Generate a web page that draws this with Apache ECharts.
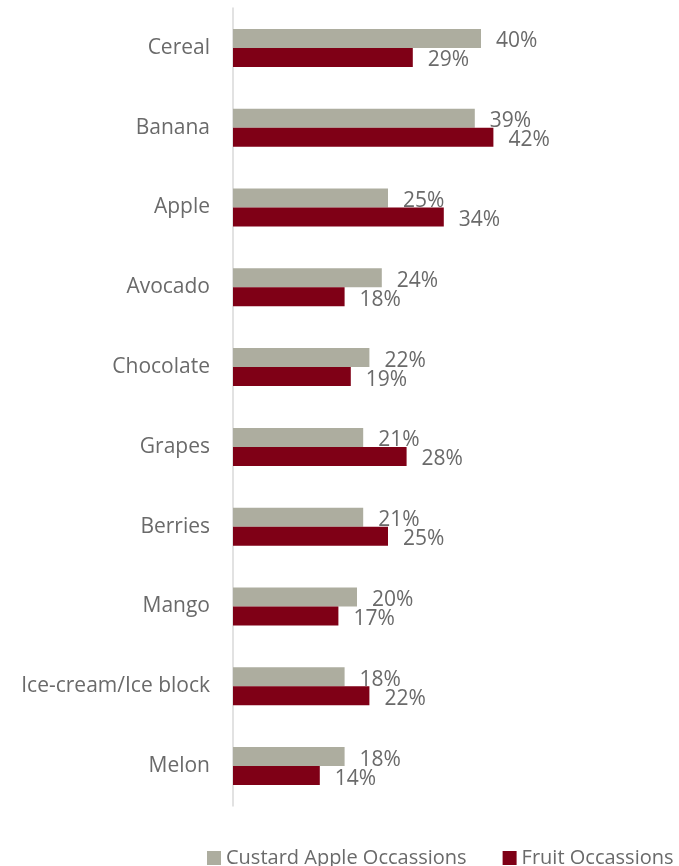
<!DOCTYPE html>
<html>
<head>
<meta charset="utf-8">
<script src="https://cdn.jsdelivr.net/npm/echarts@6/dist/echarts.min.js"></script>
<style>html,body{margin:0;padding:0;background:#fff}#c{width:679px;height:866px}</style>
</head>
<body>
<div id="c"></div>
<script>
const categories = ["Cereal","Banana","Apple","Avocado","Chocolate","Grapes","Berries","Mango","Ice-cream/Ice block","Melon"];
const custardApple = [40,39,25,24,22,21,21,20,18,18];
const fruit = [29,42,34,18,19,28,25,17,22,14];
const seriesNames = ["Custard Apple Occassions","Fruit Occassions"];

const FONT = "Open Sans";
const TXT = "#6a6a6a";
const chart = echarts.init(document.getElementById('c'), null, {renderer:'canvas'});
const labelCfg = {
  show: true, position: 'right', distance: 15, offset: [0, 3],
  formatter: p => p.value + '%', color: TXT, fontFamily: FONT, fontSize: 21
};
chart.setOption({
  animation: false,
  grid: {left: 233, top: 8, bottom: 60, right: 12, containLabel: false},
  xAxis: {type: 'value', min: 0, max: 70, show: false},
  yAxis: {
    type: 'category', data: categories, inverse: true,
    axisLine: {show: true, lineStyle: {color: '#d9d9d9', width: 1.5}},
    axisTick: {show: false},
    axisLabel: {color: TXT, fontFamily: FONT, fontSize: 21, margin: 23}
  },
  legend: {
    data: seriesNames, left: 207, top: 848, width: 700, padding: 0, icon: 'rect',
    itemWidth: 14, itemHeight: 14, itemGap: 36,
    textStyle: {color: TXT, fontFamily: FONT, fontSize: 20}
  },
  series: [
    {name: seriesNames[0], type: 'bar', data: custardApple, barWidth: 19, barGap: '0%',
     itemStyle: {color: '#adad9f'}, label: labelCfg},
    {name: seriesNames[1], type: 'bar', data: fruit, barWidth: 19, barGap: '0%',
     itemStyle: {color: '#7f0016'}, label: labelCfg}
  ]
});
</script>
</body>
</html>
